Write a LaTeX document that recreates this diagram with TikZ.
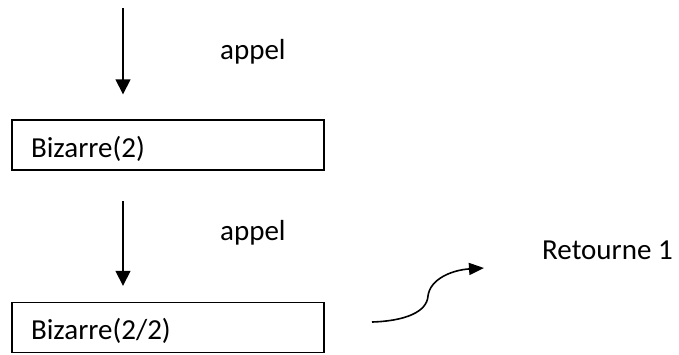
\documentclass[tikz,border=0pt]{standalone}
\usepackage{fontspec}
\setmainfont{Carlito}
\usetikzlibrary{arrows.meta}

\tikzset{
  appelbox/.style={draw, line width=1.4pt, minimum width=312pt, text width=274pt,
    inner xsep=19pt, inner ysep=7pt, text height=30pt, text depth=6pt, align=left},
  appel/.style={line width=1.6pt, -{Triangle[width=15pt,length=15pt]}},
  txt/.style={inner sep=0pt, anchor=base west}
}

\begin{document}
\begin{tikzpicture}[x=1pt, y=-1pt, font=\fontsize{29pt}{34pt}\selectfont]
                \useasboundingbox (0,0) rectangle (679,354);

                \node[appelbox] (B2) at (168,145) {Bizarre(2)};
                \node[appelbox] (B22) at (168,327.5) {Bizarre(2/2)};

                \coordinate (A1) at (123,8);
                \coordinate (A2) at (123,201);
                \draw[appel, shorten >=25pt] (A1) -- (A1 |- B2.north);
                \draw[appel, shorten >=16pt] (A2) -- (A2 |- B22.north);

                \node[txt] (L1) at (220,59) {appel};
                \node[txt] (L2) at (220,240) {appel};

                % le retour
                \coordinate (C0) at (372,322);
                \coordinate (C1) at (484,268);
                \draw[line width=1.6pt, -{Triangle[width=12pt,length=15pt]}]
                    (C0) .. controls (405,321) and (427,312) .. (428,296)
                    .. controls (430,279) and (452,270) .. (C1);
                \node[txt] (R) at (542,259) {Retourne 1};
            \end{tikzpicture}
\end{document}
